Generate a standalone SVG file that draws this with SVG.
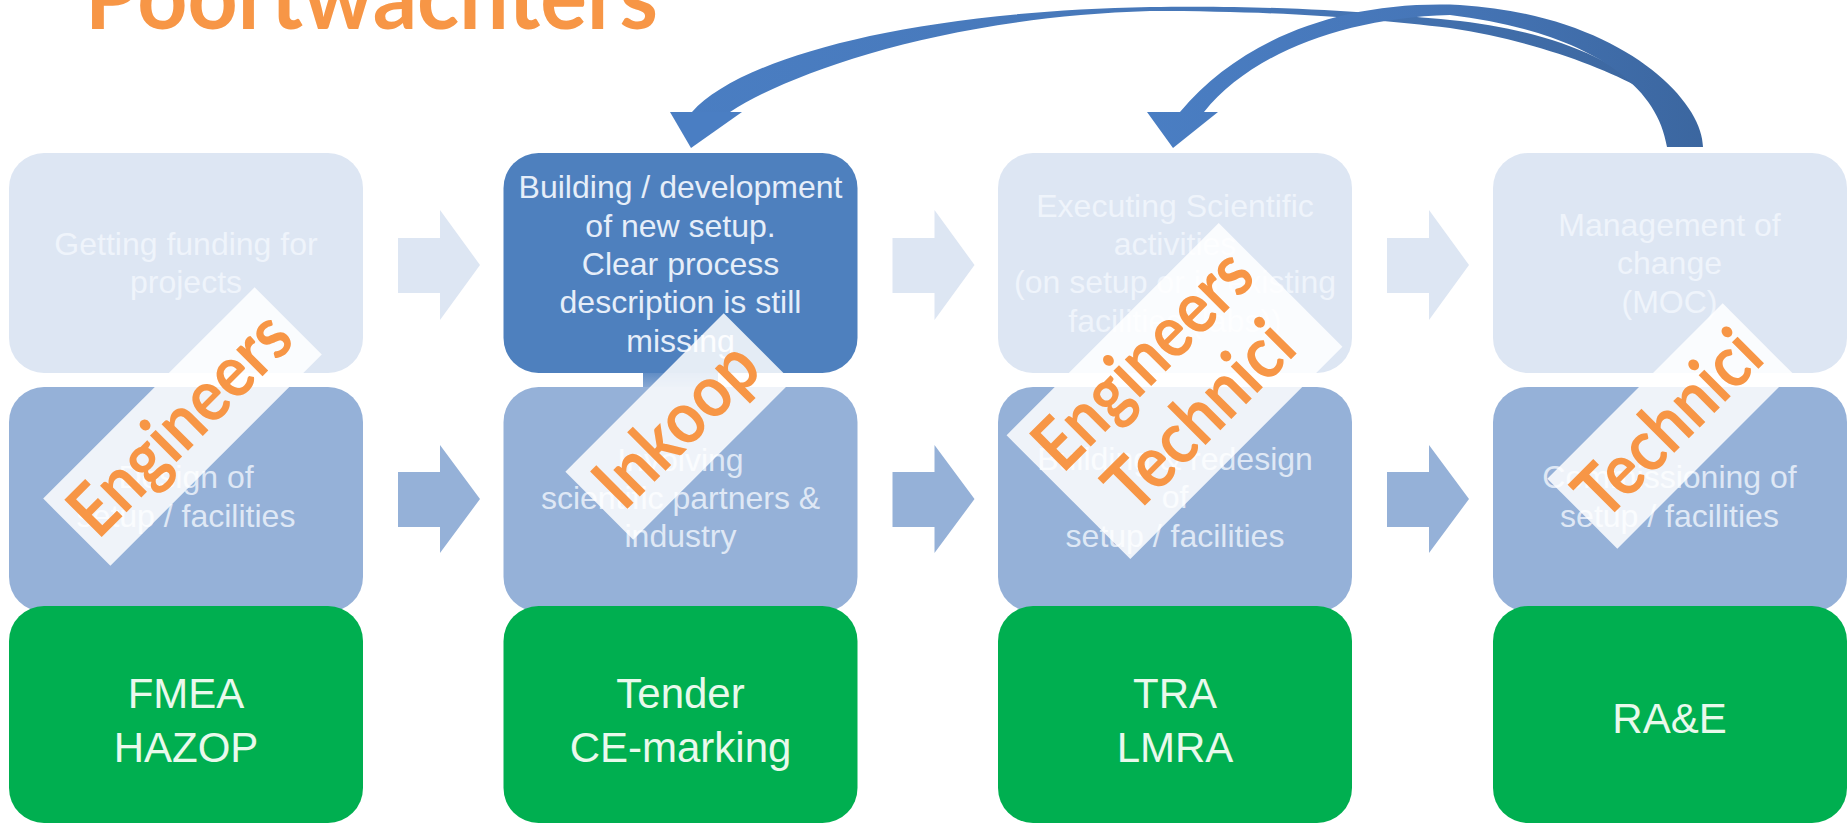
<svg xmlns="http://www.w3.org/2000/svg" width="1847" height="825" viewBox="0 0 1847 825">
<defs>
<linearGradient id="gA" gradientUnits="userSpaceOnUse" x1="650" y1="0" x2="1700" y2="0">
<stop offset="0" stop-color="#4a7ec3"/><stop offset="0.6" stop-color="#4676b6"/><stop offset="1" stop-color="#3b659d"/>
</linearGradient>
<linearGradient id="gB" gradientUnits="userSpaceOnUse" x1="1140" y1="0" x2="1710" y2="0">
<stop offset="0" stop-color="#4a7ec3"/><stop offset="0.5" stop-color="#4676b8"/><stop offset="1" stop-color="#3b669f"/>
</linearGradient>
<linearGradient id="gTab" x1="0" y1="0" x2="0" y2="1">
<stop offset="0" stop-color="#4e80be"/><stop offset="1" stop-color="#95b1d8"/>
</linearGradient>
</defs>
<style>
.t{font-family:"Liberation Sans",Arial,sans-serif;font-size:32px;text-anchor:middle}
.faded{fill:#dde6f3}
.fadedTxt{fill:#eff4fb}
.dark{fill:#4e80be}
.darkTxt{fill:#e6eef9}
.mid{fill:#95b1d8}
.midTxt{fill:#dfe8f5}
.green{fill:#00af50}
.greenTxt{fill:#e9f9ec;font-size:42px}
.arrF{fill:#dde6f3}
.arrM{fill:#95b1d8}
.lblBox{fill:#ffffff;opacity:0.85}
.lbl{font-family:Lato,"Open Sans",sans-serif;font-weight:700;font-size:73px;fill:#f79646;text-anchor:middle}
.title{font-family:Lato,"Open Sans",sans-serif;font-weight:700;font-size:92px;fill:#f79646}
</style>
<rect width="1847" height="825" fill="#ffffff"/>
<text class="title" x="85" y="29" textLength="573" lengthAdjust="spacingAndGlyphs">Poortwachters</text>

<!-- column 1 -->
<g id="n-funding"><rect class="faded" x="9" y="153" width="354" height="220" rx="35"/>
<text class="t fadedTxt" x="186" y="255">Getting funding for</text><text class="t fadedTxt" x="186" y="293">projects</text></g>
<g id="n-design"><rect class="mid" x="9" y="387" width="354" height="225" rx="35"/>
<text class="t midTxt" x="186" y="488">Design of</text><text class="t midTxt" x="186" y="527">setup / facilities</text></g>
<g id="n-fmea"><rect class="green" x="9" y="606" width="354" height="217" rx="35"/>
<text class="t greenTxt" x="186" y="708">FMEA</text><text class="t greenTxt" x="186" y="762">HAZOP</text></g>

<!-- column 2 -->
<g id="n-building"><rect x="643" y="366" width="75" height="26" fill="url(#gTab)"/>
<rect class="dark" x="503.5" y="153" width="354" height="220" rx="35"/>
<text class="t darkTxt" x="680.5" y="198">Building / development</text>
<text class="t darkTxt" x="680.5" y="237">of new setup.</text>
<text class="t darkTxt" x="680.5" y="275">Clear process</text>
<text class="t darkTxt" x="680.5" y="313">description is still</text>
<text class="t darkTxt" x="680.5" y="352">missing</text></g>
<g id="n-involving"><rect class="mid" x="503.5" y="387" width="354" height="225" rx="35"/>
<text class="t midTxt" x="680.5" y="471">Involving</text>
<text class="t midTxt" x="680.5" y="509">scientific partners &amp;</text>
<text class="t midTxt" x="680.5" y="547">industry</text></g>
<g id="n-tender"><rect class="green" x="503.5" y="606" width="354" height="217" rx="35"/>
<text class="t greenTxt" x="680.5" y="708">Tender</text><text class="t greenTxt" x="680.5" y="762">CE-marking</text></g>

<!-- column 3 -->
<g id="n-executing"><rect class="faded" x="998" y="153" width="354" height="220" rx="35"/>
<text class="t fadedTxt" x="1175" y="217">Executing Scientific</text>
<text class="t fadedTxt" x="1175" y="255">activities</text>
<text class="t fadedTxt" x="1175" y="293">(on setup or in existing</text>
<text class="t fadedTxt" x="1175" y="332">facilities (labs))</text></g>
<g id="n-redesign"><rect class="mid" x="998" y="387" width="354" height="225" rx="35"/>
<text class="t midTxt" x="1175" y="470">Building &amp; redesign</text>
<text class="t midTxt" x="1175" y="508">of</text>
<text class="t midTxt" x="1175" y="547">setup / facilities</text></g>
<g id="n-tra"><rect class="green" x="998" y="606" width="354" height="217" rx="35"/>
<text class="t greenTxt" x="1175" y="708">TRA</text><text class="t greenTxt" x="1175" y="762">LMRA</text></g>

<!-- column 4 -->
<g id="n-moc"><rect class="faded" x="1493" y="153" width="354" height="220" rx="35"/>
<text class="t fadedTxt" x="1669.5" y="236">Management of</text>
<text class="t fadedTxt" x="1669.5" y="274">change</text>
<text class="t fadedTxt" x="1669.5" y="313">(MOC)</text></g>
<g id="n-commissioning"><rect class="mid" x="1493" y="387" width="354" height="225" rx="35"/>
<text class="t midTxt" x="1669.5" y="488">Commissioning of</text>
<text class="t midTxt" x="1669.5" y="527">setup / facilities</text></g>
<g id="n-rae"><rect class="green" x="1493" y="606" width="354" height="217" rx="35"/>
<text class="t greenTxt" x="1669.5" y="733">RA&amp;E</text></g>

<!-- connectors -->
<g id="connectors">
<polygon class="arrF" points="398,238 440,238 440,210 480,265 440,320 440,293 398,293"/>
<polygon class="arrF" points="892.5,238 934.5,238 934.5,210 974.5,265 934.5,320 934.5,293 892.5,293"/>
<polygon class="arrF" points="1387,238 1429,238 1429,210 1469,265 1429,320 1429,293 1387,293"/>
<polygon class="arrM" points="398,472 440,472 440,445 480,499 440,553 440,527 398,527"/>
<polygon class="arrM" points="892.5,472 934.5,472 934.5,445 974.5,499 934.5,553 934.5,527 892.5,527"/>
<polygon class="arrM" points="1387,472 1429,472 1429,445 1469,499 1429,553 1429,527 1387,527"/>
<!-- curved arrow to Building / development -->
<path fill="url(#gA)" d="M692,112 C738,60 900,12 1150,7 C1300,5 1380,14 1450,20 C1540,29 1610,56 1640,88 C1600,66 1530,40 1450,28 C1370,19 1290,11 1150,11 C950,17 795,70 730,112 Z"/>
<polygon fill="#4a7ec3" points="670,112 742,112 691,148"/>
<!-- curved arrow to Executing Scientific activities -->
<path fill="url(#gB)" d="M1703,147 C1703,100 1620,15 1460,5 C1340,0 1240,40 1180,112 L1147,112 L1173,148 L1218,112 L1204,112 C1250,55 1340,18 1450,15 C1560,28 1655,70 1667,147 Z"/>
</g>

<!-- role labels -->
<g id="lbl-engineers"><g transform="translate(182.5,426.5) rotate(-45)">
<rect class="lblBox" x="-149.5" y="-47.5" width="299" height="95"/>
<text class="lbl" x="0" y="21" textLength="281" lengthAdjust="spacingAndGlyphs">Engineers</text></g></g>
<g id="lbl-inkoop"><g transform="translate(678.5,426.5) rotate(-45)">
<rect class="lblBox" x="-112" y="-48" width="224" height="96"/>
<text class="lbl" x="0" y="22" textLength="199" lengthAdjust="spacingAndGlyphs">Inkoop</text></g></g>
<g id="lbl-engineers-technici"><g transform="translate(1174.5,391) rotate(-45)">
<rect class="lblBox" x="-150" y="-87.5" width="300" height="175"/>
<text class="lbl" x="0" y="-20" textLength="276" lengthAdjust="spacingAndGlyphs">Engineers</text>
<text class="lbl" x="0" y="60" textLength="234" lengthAdjust="spacingAndGlyphs">Technici</text></g></g>
<g id="lbl-technici"><g transform="translate(1670,426) rotate(-45)">
<rect class="lblBox" x="-124" y="-49.5" width="248" height="99"/>
<text class="lbl" x="0" y="22" textLength="230" lengthAdjust="spacingAndGlyphs">Technici</text></g></g>
</svg>
